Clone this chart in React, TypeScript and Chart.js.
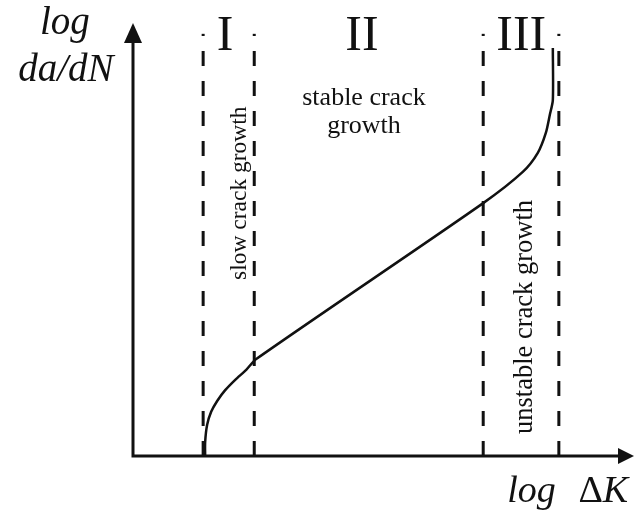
import { useEffect, useRef } from "react";
import { Chart, registerables } from "chart.js";

Chart.register(...registerables);

// Fatigue crack growth curve (log ΔK on x, log da/dN on y, arbitrary units)
const curveLogDeltaK = [1.44, 1.44, 1.48, 1.56, 1.68, 1.84, 2.04, 2.26, 2.46, 6.99, 7.78, 8.08, 8.24, 8.32, 8.38, 8.38];
const curveLogDadN = [0, 0.32, 0.72, 1.02, 1.27, 1.52, 1.76, 1.99, 2.24, 5.84, 6.56, 7.0, 7.46, 7.88, 8.22, 9.42];

// Region boundaries (dashed verticals)
const boundaries = [1.4, 2.42, 6.99, 8.5];
const boundaryTop = 9.75;

// Region labels
const regionNumerals = ["I", "II", "III"];
const regionCaptions = ["slow crack growth", "stable crack\ngrowth", "unstable crack growth"];

const axisTitleY = ["log", "da/dN"];
const axisTitleX = ["log", "Δ", "K"];

const SERIF = '"Liberation Serif", "DejaVu Serif", serif';
const INK = "#111111";

const annotate = {
  id: "annotate",
  afterDatasetsDraw(chart: any) {
    const { ctx } = chart;
    const xs = chart.scales.x;
    const ys = chart.scales.y;
    const left = xs.getPixelForValue(0);
    const bottom = ys.getPixelForValue(0);
    const right = xs.right;
    const top = ys.top;

    ctx.save();
    ctx.fillStyle = INK;
    ctx.strokeStyle = INK;
    ctx.lineWidth = 3;
    ctx.lineCap = "butt";

    // axes
    ctx.beginPath();
    ctx.moveTo(left - 1.5, bottom);
    ctx.lineTo(right - 12, bottom);
    ctx.moveTo(left, bottom + 1.5);
    ctx.lineTo(left, top + 16);
    ctx.stroke();

    // arrow heads
    ctx.beginPath();
    ctx.moveTo(right, bottom);
    ctx.lineTo(right - 16, bottom - 8);
    ctx.lineTo(right - 16, bottom + 8);
    ctx.closePath();
    ctx.fill();
    ctx.beginPath();
    ctx.moveTo(left, top);
    ctx.lineTo(left - 9, top + 20);
    ctx.lineTo(left + 9, top + 20);
    ctx.closePath();
    ctx.fill();

    // roman numerals
    ctx.font = `50px ${SERIF}`;
    ctx.textAlign = "center";
    ctx.textBaseline = "alphabetic";
    const numeralX = [1.84, 4.57, 7.75];
    numeralX.forEach((v, i) => {
      ctx.fillText(regionNumerals[i], xs.getPixelForValue(v), ys.getPixelForValue(9.38));
    });

    // captions
    ctx.font = `26px ${SERIF}`;
    const stableLines = regionCaptions[1].split("\n");
    ctx.fillText(stableLines[0], xs.getPixelForValue(4.61), ys.getPixelForValue(8.11));
    ctx.fillText(stableLines[1], xs.getPixelForValue(4.61), ys.getPixelForValue(7.46));

    const vertical = (text: string, size: number, vx: number, vy: number) => {
      ctx.save();
      ctx.font = `${size}px ${SERIF}`;
      ctx.translate(xs.getPixelForValue(vx), ys.getPixelForValue(vy));
      ctx.rotate(-Math.PI / 2);
      ctx.textAlign = "center";
      ctx.textBaseline = "alphabetic";
      ctx.fillText(text, 0, 0);
      ctx.restore();
    };
    vertical(regionCaptions[0], 23.5, 2.26, 6.07);
    vertical(regionCaptions[2], 26.5, 7.97, 3.21);

    // axis titles
    ctx.font = `italic 39px ${SERIF}`;
    ctx.textAlign = "center";
    ctx.fillText(axisTitleY[0], xs.getPixelForValue(-1.36), ys.getPixelForValue(9.75));
    ctx.fillText(axisTitleY[1], xs.getPixelForValue(-1.34), ys.getPixelForValue(8.66));

    ctx.font = `italic 38px ${SERIF}`;
    ctx.textAlign = "left";
    const baseX = ys.getPixelForValue(-1.06);
    let px = xs.getPixelForValue(7.47);
    ctx.fillText(axisTitleX[0], px, baseX);
    px = xs.getPixelForValue(8.89);
    ctx.font = `38px ${SERIF}`;
    ctx.fillText(axisTitleX[1], px, baseX);
    px += ctx.measureText(axisTitleX[1]).width;
    ctx.font = `italic 38px ${SERIF}`;
    ctx.fillText(axisTitleX[2], px, baseX);

    ctx.restore();
  },
};

export default function App() {
  const canvasRef = useRef<HTMLCanvasElement | null>(null);

  useEffect(() => {
    const canvas = canvasRef.current;
    if (!canvas) return;

    const boundarySets = boundaries.map((b) => ({
      data: [
        { x: b, y: 0 },
        { x: b, y: boundaryTop },
      ],
      borderColor: INK,
      borderWidth: 3,
      borderDash: [15, 15],
      pointRadius: 0,
      tension: 0,
      clip: false as const,
    }));

    const chart = new Chart(canvas, {
      type: "line",
      data: {
        datasets: [
          ...boundarySets,
          {
            data: curveLogDeltaK.map((x, i) => ({ x, y: curveLogDadN[i] })),
            borderColor: INK,
            borderWidth: 2.5,
            pointRadius: 0,
            tension: 0.25,
            clip: false as const,
          },
        ],
      },
      options: {
        animation: false,
        responsive: false,
        devicePixelRatio: 1,
        layout: { padding: { left: 133, right: 0, top: 23, bottom: 63 } },
        plugins: {
          legend: { display: false },
          tooltip: { enabled: false },
        },
        scales: {
          x: { type: "linear", min: 0, max: 10, display: false },
          y: { type: "linear", min: 0, max: 10, display: false },
        },
      },
      plugins: [annotate],
    });

    return () => chart.destroy();
  }, []);

  return (
    <div style={{ position: "absolute", left: 0, top: 0, width: 634, height: 519, background: "#ffffff" }}>
      <canvas ref={canvasRef} width={634} height={519} />
    </div>
  );
}
